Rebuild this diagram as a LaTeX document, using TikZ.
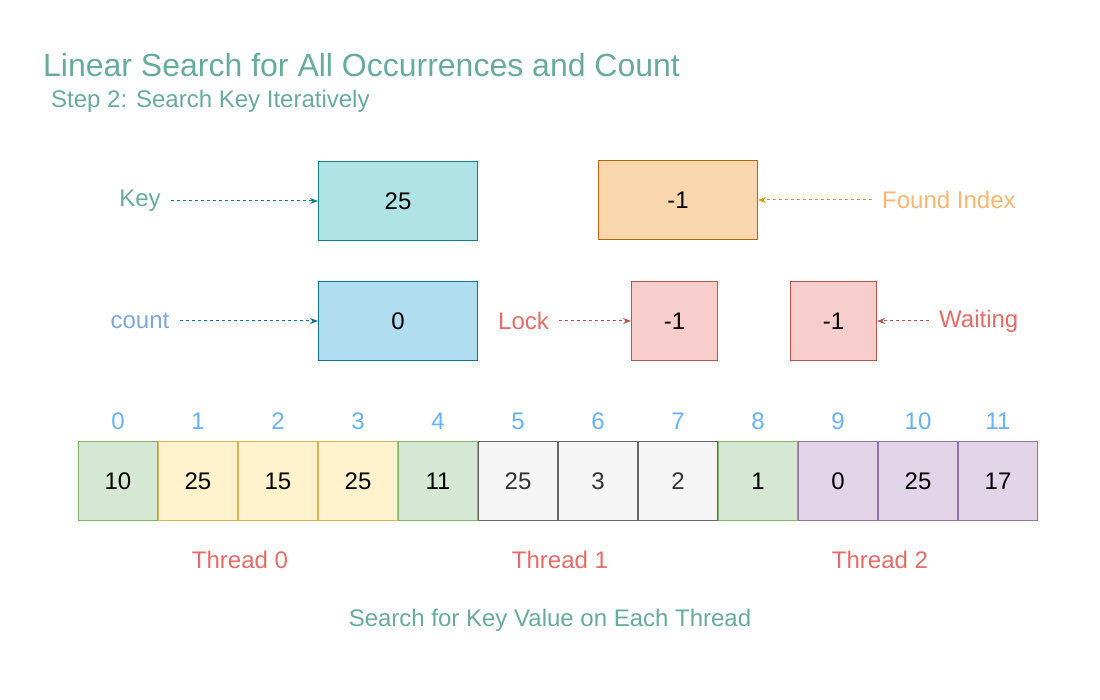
\documentclass[tikz,border=0pt]{standalone}
\usepackage{fontspec}
\setmainfont{Liberation Sans}
\usetikzlibrary{arrows.meta}
\definecolor{titlec}{HTML}{67AB9F}
\definecolor{keyfill}{HTML}{B0E3E6}\definecolor{keydraw}{HTML}{0E8088}
\definecolor{fifill}{HTML}{FAD7AC}\definecolor{fidraw}{HTML}{B46504}
\definecolor{fiarrow}{HTML}{D79B00}\definecolor{filab}{HTML}{FFB570}
\definecolor{cntfill}{HTML}{B1DDF0}\definecolor{cntdraw}{HTML}{10739E}
\definecolor{cntlab}{HTML}{7EA6E0}
\definecolor{redfill}{HTML}{F8CECC}\definecolor{reddraw}{HTML}{B85450}
\definecolor{redlab}{HTML}{EA6B66}
\definecolor{grnfill}{HTML}{D5E8D4}\definecolor{grndraw}{HTML}{82B366}
\definecolor{yelfill}{HTML}{FFF2CC}\definecolor{yeldraw}{HTML}{D6B656}
\definecolor{gryfill}{HTML}{F5F5F5}\definecolor{grydraw}{HTML}{666666}
\definecolor{purfill}{HTML}{E1D5E7}\definecolor{purdraw}{HTML}{9673A6}
\definecolor{idxc}{HTML}{66B2FF}
\newcommand{\fszl}{\fontsize{24}{28}\selectfont}
\begin{document}
\begin{tikzpicture}[x=1pt,y=-1pt,
  valbox/.style={draw, line width=1pt, minimum width=159pt, minimum height=79pt, inner sep=0pt, font=\fszl},
  smallbox/.style={draw=reddraw, fill=redfill, line width=1pt, minimum width=86pt, minimum height=79pt, inner sep=0pt, font=\fszl},
  lbl/.style={inner xsep=10pt, inner ysep=0pt, font=\fszl},
  conn/.style={line width=1pt, dash pattern=on 3pt off 3pt, -{Stealth[length=8pt,width=6pt]}},
  cell/.style={draw, line width=1pt, minimum width=79pt, minimum height=79pt, inner sep=0pt, font=\fszl},
  plain/.style={inner sep=0pt, font=\fszl}
]
\useasboundingbox (0,0) rectangle (1100,700);

\node[anchor=west, inner sep=0pt, text=titlec, font=\fontsize{32}{36}\selectfont] (title) at (43,65) {Linear Search for All Occurrences and Count};
\node[anchor=west, inner sep=0pt, text=titlec, font=\fontsize{24}{28}\selectfont] (sub) at (51,101) {Step 2: Search Key Iteratively};

% top row
\node[valbox, draw=keydraw, fill=keyfill] (key) at (398,201) {25};
\node[valbox, draw=fidraw, fill=fifill] (fi) at (678,200) {-1};
\node[lbl, text=titlec] (keylab) at (140,201) {Key};
\node[lbl, text=filab, anchor=west] (filab) at (872,200) {Found Index};
\draw[conn, keydraw] (keylab.east) -- (key.west);
\draw[conn, fiarrow] (filab.west) -- (fi.east);

% second row
\node[valbox, draw=cntdraw, fill=cntfill] (cnt) at (398,321) {0};
\node[smallbox] (lock) at (674.5,321) {-1};
\node[smallbox] (wait) at (833.5,321) {-1};
\node[lbl, text=cntlab] (cntlab) at (140,321) {count};
\node[lbl, text=redlab] (locklab) at (523.5,321) {Lock};
\node[lbl, text=redlab, anchor=west] (waitlab) at (929,321) {Waiting};
\draw[conn, cntdraw] (cntlab.east) -- (cnt.west);
\draw[conn, reddraw] (locklab.east) -- (lock.west);
\draw[conn, reddraw] (waitlab.west) -- (wait.east);

% array
\foreach \i/\v/\f/\d/\t in {0/10/grnfill/grndraw/black,1/25/yelfill/yeldraw/black,2/15/yelfill/yeldraw/black,3/25/yelfill/yeldraw/black,4/11/grnfill/grndraw/black,5/25/gryfill/grydraw/black!80,6/3/gryfill/grydraw/black!80,7/2/gryfill/grydraw/black!80,8/1/grnfill/grndraw/black,9/0/purfill/purdraw/black,10/25/purfill/purdraw/black,11/17/purfill/purdraw/black}{
  \node[cell, fill=\f, draw=\d, text=\t] (c\i) at ({118+80*\i},481) {\v};
  \node[plain, text=idxc] (i\i) at ({118+80*\i},421) {\i};
}

\node[plain, text=redlab] (t0) at (240,560) {Thread 0};
\node[plain, text=redlab] (t1) at (560,560) {Thread 1};
\node[plain, text=redlab] (t2) at (880,560) {Thread 2};
\node[plain, text=titlec] (foot) at (550,620) {Search for Key Value on Each Thread};
\end{tikzpicture}
\end{document}
